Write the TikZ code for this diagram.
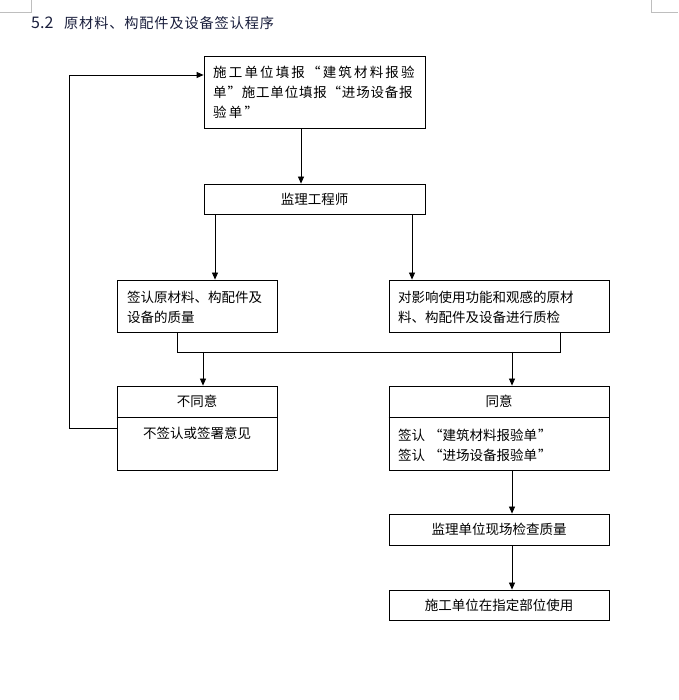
\documentclass[tikz,border=0pt]{standalone}
\usepackage{fontspec}
\newfontfamily\cjk{Noto Sans CJK SC}
\newfontfamily\cjkwide[LetterSpace=16]{Noto Sans CJK SC}
\newfontfamily\cjkmid[LetterSpace=6]{Noto Sans CJK SC}
\newfontfamily\cjktitle[LetterSpace=6]{Noto Sans CJK SC}
\usetikzlibrary{arrows.meta}
\definecolor{titleblue}{RGB}{25,30,60}
\definecolor{markgray}{RGB}{190,190,190}
\tikzset{
  box/.style={draw, line width=0.8pt, rectangle, inner sep=0pt},
  txt/.style={font=\cjk\fontsize{13.5}{20}\selectfont, inner sep=0pt, anchor=west},
  ctxt/.style={font=\cjk\fontsize{13.5}{20}\selectfont, inner sep=0pt},
  arr/.style={line width=0.8pt, -{Triangle[length=7pt,width=6pt]}},
  ln/.style={line width=0.8pt},
  pagemark/.style={markgray, line width=0.8pt}
}
\begin{document}
\begin{tikzpicture}[x=1pt,y=1pt]
\useasboundingbox (0,0) rectangle (678,700);
% page corner marks
\draw[pagemark] (0,688) -- (31,688) -- (31,700);
\draw[pagemark] (651,700) -- (651,688) -- (678,688);
% title
\node[anchor=west, inner sep=0pt, text=titleblue, font=\cjk\fontsize{16}{18}\selectfont] (title) at (31,677) {5.2};
\node[anchor=west, inner sep=0pt, text=titleblue, font=\cjktitle\fontsize{14.2}{18}\selectfont] (title2) at (64,677) {原材料、构配件及设备签认程序};
% boxes
\node[box, minimum width=221pt, minimum height=72pt] (b1) at (314.5,608) {};
\node[txt, font=\cjkwide\fontsize{13.5}{20}\selectfont] (b1t1) at (213,628) {施工单位填报“建筑材料报验};
\node[txt, font=\cjkmid\fontsize{13.5}{20}\selectfont] (b1t2) at (213,608) {单”施工单位填报“进场设备报};
\node[txt, font=\cjkwide\fontsize{13.5}{20}\selectfont] (b1t3) at (213,588) {验单”};

\node[box, minimum width=221pt, minimum height=30pt, ctxt] (b2) at (314.5,501) {监理工程师};

\node[box, minimum width=160pt, minimum height=52pt] (b3) at (197,394) {};
\node[txt] (b3t1) at (127,403) {签认原材料、构配件及};
\node[txt] (b3t2) at (127,383) {设备的质量};

\node[box, minimum width=220pt, minimum height=52pt] (b4) at (499,394) {};
\node[txt] (b4t1) at (398,403) {对影响使用功能和观感的原材};
\node[txt] (b4t2) at (398,383) {料、构配件及设备进行质检};

\node[box, minimum width=160pt, minimum height=84pt] (b5) at (197,272) {};
\draw[ln] (b5.west |- 0,283) -- (b5.east |- 0,283);
\node[ctxt] (b5t1) at (197,299) {不同意};
\node[ctxt] (b5t2) at (197,267) {不签认或签署意见};

\node[box, minimum width=220pt, minimum height=84pt] (b6) at (499,272) {};
\draw[ln] (b6.west |- 0,283) -- (b6.east |- 0,283);
\node[ctxt] (b6t1) at (499,299) {同意};
\node[txt] (b6t2) at (398,265) {签认\hspace{4pt}“建筑材料报验单\hspace{1pt}”};
\node[txt] (b6t3) at (398,245) {签认\hspace{4pt}“进场设备报验单\hspace{1pt}”};

\node[box, minimum width=220pt, minimum height=31pt, ctxt] (b7) at (499,170.5) {监理单位现场检查质量};
\node[box, minimum width=220pt, minimum height=30pt, ctxt] (b8) at (499,95) {施工单位在指定部位使用};

% connectors
\draw[arr] (b1.south -| 301,0) -- (b2.north -| 301,0);
\draw[arr] (b2.south -| 215,0) -- (b3.north -| 215,0);
\draw[arr] (b2.south -| 412,0) -- (b4.north -| 412,0);
\coordinate (mL) at (177,348);
\coordinate (mR) at (560,348);
\draw[ln] (b3.south -| mL) -- (mL) -- (mR) -- (b4.south -| mR);
\draw[arr] (203,348) -- (b5.north -| 203,0);
\draw[arr] (512,348) -- (b6.north -| 512,0);
\coordinate (fbL) at (69,272);
\coordinate (fbT) at (69,625);
\draw[arr] (b5.west) -- (fbL) -- (fbT) -- (b1.west |- fbT);
\draw[arr] (b6.south -| 512,0) -- (b7.north -| 512,0);
\draw[arr] (b7.south -| 512,0) -- (b8.north -| 512,0);
\end{tikzpicture}
\end{document}
